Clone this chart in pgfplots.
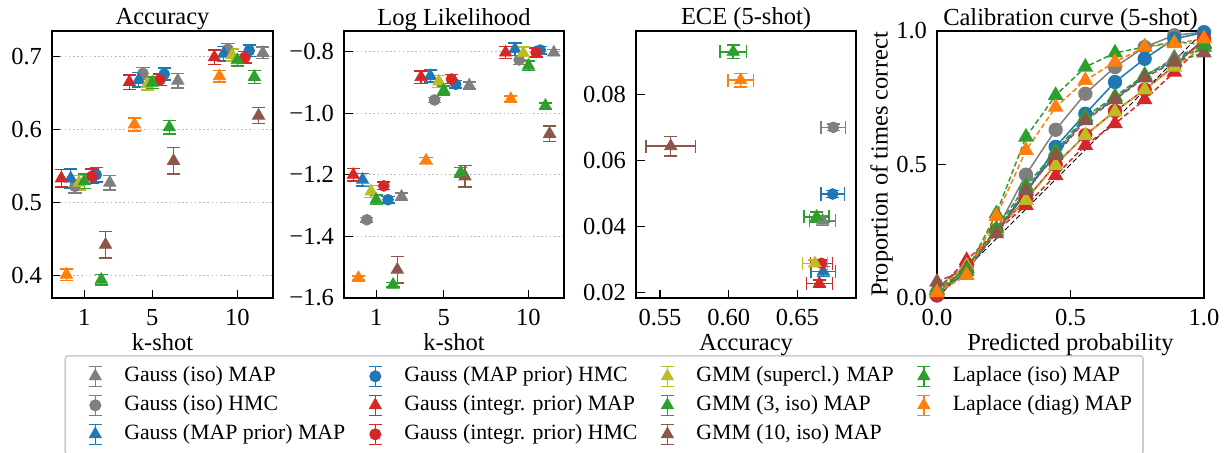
\documentclass[border=0pt]{standalone}
\usepackage{fontspec}
\setmainfont{Liberation Serif}
\usepackage{pgfplots}
\pgfplotsset{compat=1.18}
\definecolor{tgray}{HTML}{7F7F7F}
\definecolor{tblue}{HTML}{1F77B4}
\definecolor{tred}{HTML}{D62728}
\definecolor{tolive}{HTML}{BCBD22}
\definecolor{tgreen}{HTML}{2CA02C}
\definecolor{tbrown}{HTML}{8C564B}
\definecolor{torange}{HTML}{FF7F0E}
\definecolor{lgray}{HTML}{CCCCCC}
\newcommand{\bigf}{\fontsize{12.25}{14.5}\selectfont}
\newcommand{\legf}{\fontsize{10.9}{13}\selectfont}
\pgfplotsset{
  base/.style={scale only axis, axis line style={line width=0.8pt}, tick style={line width=0.6pt, black},
    major tick length=4.25pt, tick align=inside, xtick pos=left, ytick pos=left, scaled ticks=false,
    ticklabel style={font=\bigf}, label style={font=\bigf}, title style={font=\bigf, at={(0.5,1)}, anchor=base, yshift=-3pt},
    xticklabel style={anchor=base, yshift=-13.75pt}, yticklabel style={xshift=-1.5pt},
    xlabel style={at={(axis description cs:0.5,-0.195)}, anchor=base},
    clip=false},
  grd/.style={ymajorgrids, major grid style={line width=0.5pt, color=gray!55, dash pattern=on 0.8pt off 1.3pt}},
  ebcommon/.style={error bars/error bar style={line width=0.75pt}, error bars/error mark options={rotate=90, mark size=3.3pt, line width=0.75pt}},
  ebt/.style={color=#1, only marks, mark=triangle*, mark size=3.5pt, mark options={solid},
    error bars/y dir=both, error bars/y explicit, ebcommon},
  ebc/.style={color=#1, only marks, mark=*, mark size=2.7pt, mark options={solid},
    error bars/y dir=both, error bars/y explicit, ebcommon},
  ebtt/.style={color=#1, only marks, mark=triangle*, mark size=3.5pt, mark options={solid},
    error bars/x dir=both, error bars/x explicit, error bars/y dir=both, error bars/y explicit, ebcommon},
  ebcc/.style={color=#1, only marks, mark=*, mark size=2.7pt, mark options={solid},
    error bars/x dir=both, error bars/x explicit, error bars/y dir=both, error bars/y explicit, ebcommon},
  cdash/.style={color=#1, line width=0.75pt, dash pattern=on 2.6pt off 1.4pt, mark=triangle*, mark size=3.8pt, mark options={solid}},
  csol/.style={color=#1, line width=0.75pt, solid, mark=*, mark size=3.2pt, mark options={solid}},
  legtri/.style={legend image code/.code={
    \path[draw=none, fill=none] (0pt,0pt) (24pt,0pt);
    \draw[line width=0.75pt,solid] (12pt,-5pt) -- (12pt,5pt) (8.7pt,5pt) -- (15.3pt,5pt) (8.7pt,-5pt) -- (15.3pt,-5pt);
    \draw[solid, mark=triangle*, mark size=3.1pt] plot coordinates {(12pt,0pt)};}},
  legcirc/.style={legend image code/.code={
    \path[draw=none, fill=none] (0pt,0pt) (24pt,0pt);
    \draw[line width=0.75pt,solid] (12pt,-5pt) -- (12pt,5pt) (8.7pt,5pt) -- (15.3pt,5pt) (8.7pt,-5pt) -- (15.3pt,-5pt);
    \draw[solid, mark=*, mark size=2.6pt] plot coordinates {(12pt,0pt)};}},
}
\begin{document}
\begin{tikzpicture}
\useasboundingbox (0,0) rectangle (614pt,226pt);
% ---------------- Accuracy
\begin{axis}[base, grd, at={(26pt,77pt)}, anchor=south west, width=110.5pt, height=133.5pt,
  xmin=-0.9, xmax=12.1, ymin=0.369, ymax=0.735,
  xtick={1,5,10}, xticklabels={1,5,10}, ytick={0.4,0.5,0.6,0.7}, yticklabels={0.4,0.5,0.6,0.7},
  title={Accuracy}, xlabel={k-shot},
  legend columns=4, legend cell align=left,
  legend style={at={(axis description cs:0.0565,-0.2135)}, anchor=north west, draw=lgray, line width=0.8pt,
    rounded corners=1.5pt, inner xsep=3pt, inner ysep=3pt, font=\legf,
    /tikz/every even column/.append style={column sep=0.5pt},
    nodes={inner xsep=2.5pt, inner ysep=2pt, text height=8pt, text depth=2.5pt}}]
\addplot[forget plot, ebt=tgray] coordinates {(2.5,0.527) +- (0,0.010) (6.5,0.667) +- (0,0.010) (11.5,0.705) +- (0,0.008)};
\addplot[forget plot, ebc=tgray] coordinates {(0.45,0.522) +- (0,0.009) (4.45,0.677) +- (0,0.008) (9.45,0.710) +- (0,0.008)};
\addplot[forget plot, ebt=tblue] coordinates {(0.2,0.533) +- (0,0.013) (4.2,0.668) +- (0,0.010) (9.2,0.704) +- (0,0.010)};
\addplot[forget plot, ebc=tblue] coordinates {(1.7,0.538) +- (0,0.010) (5.7,0.676) +- (0,0.008) (10.7,0.708) +- (0,0.008)};
\addplot[forget plot, ebt=tred] coordinates {(-0.35,0.533) +- (0,0.012) (3.65,0.665) +- (0,0.010) (8.65,0.699) +- (0,0.010)};
\addplot[forget plot, ebc=tred] coordinates {(1.45,0.536) +- (0,0.010) (5.45,0.668) +- (0,0.008) (10.45,0.699) +- (0,0.008)};
\addplot[forget plot, ebt=tolive] coordinates {(0.7,0.527) +- (0,0.010) (4.7,0.662) +- (0,0.008) (9.7,0.702) +- (0,0.008)};
\addplot[forget plot, ebt=tgreen] coordinates {(1.0,0.529) +- (0,0.010) (5.0,0.664) +- (0,0.008) (10.0,0.695) +- (0,0.008)};
\addplot[forget plot, ebt=tbrown] coordinates {(2.25,0.442) +- (0,0.018) (6.25,0.557) +- (0,0.018) (11.25,0.619) +- (0,0.011)};
\addplot[forget plot, ebt=tgreen] coordinates {(2.0,0.394) +- (0,0.007) (6.0,0.603) +- (0,0.009) (11.0,0.672) +- (0,0.009)};
\addplot[forget plot, ebt=torange] coordinates {(-0.05,0.401) +- (0,0.008) (3.95,0.607) +- (0,0.009) (8.95,0.673) +- (0,0.008)};
\addlegendimage{legtri, color=tgray}\addlegendentry{Gauss (iso) MAP}
\addlegendimage{legcirc, color=tblue}\addlegendentry{Gauss (MAP prior) HMC}
\addlegendimage{legtri, color=tolive}\addlegendentry{GMM (supercl.) MAP}
\addlegendimage{legtri, color=tgreen}\addlegendentry{Laplace (iso) MAP}
\addlegendimage{legcirc, color=tgray}\addlegendentry{Gauss (iso) HMC}
\addlegendimage{legtri, color=tred}\addlegendentry{Gauss (integr. prior) MAP}
\addlegendimage{legtri, color=tgreen}\addlegendentry{GMM (3, iso) MAP}
\addlegendimage{legtri, color=torange}\addlegendentry{Laplace (diag) MAP}
\addlegendimage{legtri, color=tblue}\addlegendentry{Gauss (MAP prior) MAP}
\addlegendimage{legcirc, color=tred}\addlegendentry{Gauss (integr. prior) HMC}
\addlegendimage{legtri, color=tbrown}\addlegendentry{GMM (10, iso) MAP}
\end{axis}
% ---------------- Log likelihood
\begin{axis}[base, grd, at={(172pt,77pt)}, anchor=south west, width=110pt, height=133.5pt,
  xmin=-0.9, xmax=12.1, ymin=-1.6, ymax=-0.733,
  xtick={1,5,10}, xticklabels={1,5,10}, ytick={-1.6,-1.4,-1.2,-1.0,-0.8}, yticklabels={−1.6,−1.4,−1.2,−1.0,−0.8},
  title={Log Likelihood}, xlabel={k-shot}]
\addplot[ebt=tgray] coordinates {(2.5,-1.271) +- (0,0.012) (6.5,-0.910) +- (0,0.012) (11.5,-0.803) +- (0,0.010)};
\addplot[ebc=tgray] coordinates {(0.45,-1.346) +- (0,0.008) (4.45,-0.957) +- (0,0.008) (9.45,-0.827) +- (0,0.015)};
\addplot[ebt=tblue] coordinates {(0.2,-1.216) +- (0,0.020) (4.2,-0.879) +- (0,0.020) (9.2,-0.792) +- (0,0.020)};
\addplot[ebc=tblue] coordinates {(1.7,-1.281) +- (0,0.010) (5.7,-0.906) +- (0,0.012) (10.7,-0.795) +- (0,0.012)};
\addplot[ebt=tred] coordinates {(-0.35,-1.200) +- (0,0.020) (3.65,-0.883) +- (0,0.020) (8.65,-0.803) +- (0,0.020)};
\addplot[ebc=tred] coordinates {(1.45,-1.236) +- (0,0.012) (5.45,-0.889) +- (0,0.015) (10.45,-0.803) +- (0,0.015)};
\addplot[ebt=tolive] coordinates {(0.7,-1.254) +- (0,0.020) (4.7,-0.897) +- (0,0.020) (9.7,-0.805) +- (0,0.020)};
\addplot[ebt=tgreen] coordinates {(1.0,-1.281) +- (0,0.015) (5.0,-0.926) +- (0,0.015) (10.0,-0.846) +- (0,0.015)};
\addplot[ebt=tbrown] coordinates {(2.25,-1.508) +- (0,0.043) (6.25,-1.205) +- (0,0.035) (11.25,-1.067) +- (0,0.025)};
\addplot[ebt=tgreen] coordinates {(2.0,-1.557) +- (0,0.007) (6.0,-1.192) +- (0,0.015) (11.0,-0.976) +- (0,0.010)};
\addplot[ebt=torange] coordinates {(-0.05,-1.535) +- (0,0.007) (3.95,-1.154) +- (0,0.010) (8.95,-0.954) +- (0,0.010)};
\end{axis}
% ---------------- ECE
\begin{axis}[base, at={(318pt,77pt)}, anchor=south west, width=110pt, height=133.5pt,
  xmin=0.5325, xmax=0.6927, ymin=0.0183, ymax=0.0992,
  xtick={0.55,0.60,0.65}, xticklabels={0.55,0.60,0.65}, ytick={0.02,0.04,0.06,0.08}, yticklabels={0.02,0.04,0.06,0.08},
  title={ECE (5-shot)}, xlabel={Accuracy}]
\addplot[ebtt=tgray] coordinates {(0.6684,0.0417) +- (0.0095,0.0015)};
\addplot[ebcc=tgray] coordinates {(0.6762,0.0700) +- (0.009,0.001)};
\addplot[ebtt=tblue] coordinates {(0.6689,0.0263) +- (0.009,0.0015)};
\addplot[ebcc=tblue] coordinates {(0.6757,0.0498) +- (0.0085,0.001)};
\addplot[ebtt=tred] coordinates {(0.6660,0.0227) +- (0.0095,0.001)};
\addplot[ebcc=tred] coordinates {(0.6676,0.0288) +- (0.008,0.001)};
\addplot[ebtt=tolive] coordinates {(0.6628,0.0288) +- (0.009,0.001)};
\addplot[ebtt=tgreen] coordinates {(0.6640,0.0429) +- (0.009,0.0015)};
\addplot[ebtt=tbrown] coordinates {(0.5578,0.0643) +- (0.018,0.003)};
\addplot[ebtt=tgreen] coordinates {(0.6033,0.0929) +- (0.0097,0.002)};
\addplot[ebtt=torange] coordinates {(0.6087,0.0843) +- (0.0093,0.002)};
\end{axis}
% ---------------- Calibration
\begin{axis}[base, at={(468.5pt,77pt)}, anchor=south west, width=133.5pt, height=133.5pt, clip=true,
  xmin=0, xmax=1, ymin=0, ymax=1,
  xtick={0,0.5,1}, xticklabels={0.0,0.5,1.0}, ytick={0,0.5,1}, yticklabels={0.0,0.5,1.0},
  title={Calibration curve (5-shot)}, xlabel={Predicted probability}, ylabel={Proportion of times correct},
  ylabel style={at={(axis description cs:-0.185,0.5)}, anchor=base}]
\addplot[black, line width=0.5pt, dash pattern=on 2.6pt off 1.4pt] coordinates {(0,0) (1,1)};
\addplot[cdash=tgray] coordinates {(0,0.04) (0.1111,0.12) (0.2222,0.25) (0.3333,0.41) (0.4444,0.545) (0.5556,0.675) (0.6667,0.75) (0.7778,0.83) (0.8889,0.90) (1,0.95)};
\addplot[csol=tgray] coordinates {(0,0.01) (0.1111,0.10) (0.2222,0.253) (0.3333,0.462) (0.4444,0.63) (0.5556,0.765) (0.6667,0.865) (0.7778,0.94) (0.8889,0.984) (1,0.996)};
\addplot[cdash=tblue] coordinates {(0,0.03) (0.1111,0.11) (0.2222,0.25) (0.3333,0.40) (0.4444,0.54) (0.5556,0.67) (0.6667,0.745) (0.7778,0.83) (0.8889,0.89) (1,0.955)};
\addplot[csol=tblue] coordinates {(0,0.01) (0.1111,0.10) (0.2222,0.25) (0.3333,0.39) (0.4444,0.566) (0.5556,0.69) (0.6667,0.809) (0.7778,0.896) (0.8889,0.971) (1,0.994)};
\addplot[cdash=tred] coordinates {(0,0.03) (0.1111,0.141) (0.2222,0.25) (0.3333,0.347) (0.4444,0.459) (0.5556,0.572) (0.6667,0.653) (0.7778,0.743) (0.8889,0.846) (1,0.953)};
\addplot[csol=tred] coordinates {(0,0.01) (0.1111,0.12) (0.2222,0.25) (0.3333,0.37) (0.4444,0.50) (0.5556,0.61) (0.6667,0.70) (0.7778,0.78) (0.8889,0.87) (1,0.97)};
\addplot[cdash=tolive] coordinates {(0,0.03) (0.1111,0.12) (0.2222,0.25) (0.3333,0.366) (0.4444,0.497) (0.5556,0.609) (0.6667,0.697) (0.7778,0.78) (0.8889,0.865) (1,0.94)};
\addplot[cdash=tgreen] coordinates {(0,0.03) (0.1111,0.11) (0.2222,0.26) (0.3333,0.42) (0.4444,0.55) (0.5556,0.68) (0.6667,0.755) (0.7778,0.835) (0.8889,0.89) (1,0.94)};
\addplot[cdash=tbrown] coordinates {(0,0.06) (0.1111,0.11) (0.2222,0.241) (0.3333,0.403) (0.4444,0.534) (0.5556,0.665) (0.6667,0.743) (0.7778,0.825) (0.8889,0.884) (1,0.918)};
\addplot[cdash=tgreen] coordinates {(0,0.02) (0.1111,0.10) (0.2222,0.316) (0.3333,0.603) (0.4444,0.759) (0.5556,0.865) (0.6667,0.918) (0.7778,0.94) (0.8889,0.959) (1,0.95)};
\addplot[cdash=torange] coordinates {(0,0.02) (0.1111,0.085) (0.2222,0.306) (0.3333,0.553) (0.4444,0.715) (0.5556,0.815) (0.6667,0.884) (0.7778,0.94) (0.8889,0.953) (1,0.971)};
\end{axis}
\end{tikzpicture}
\end{document}
